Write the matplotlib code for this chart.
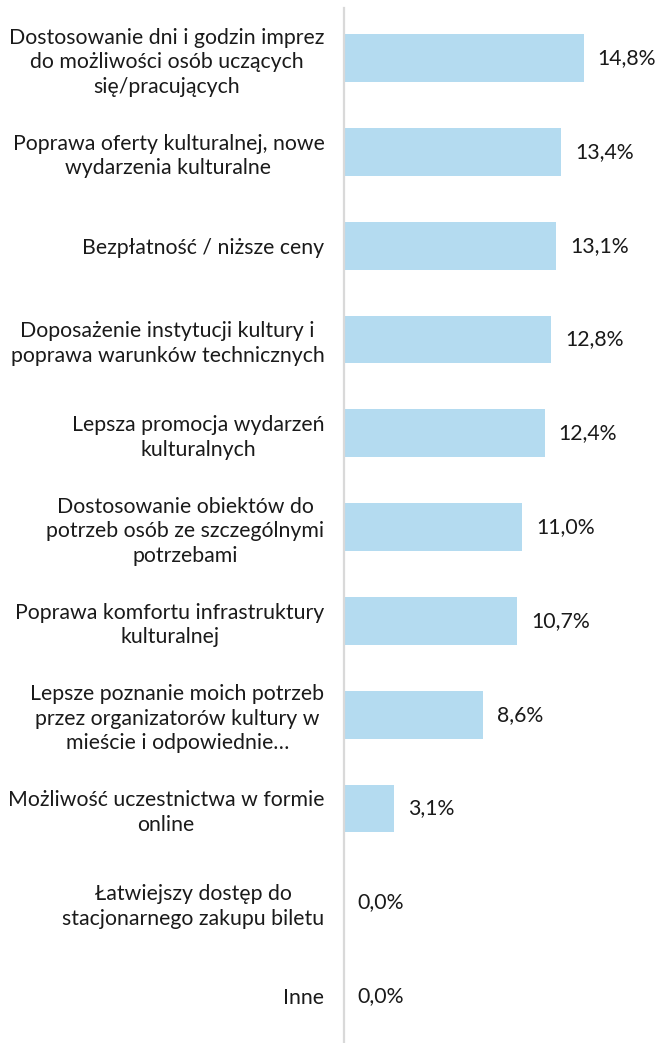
import matplotlib

matplotlib.use("Agg")
import matplotlib.pyplot as plt

# dane (od góry do dołu)
kategorie = [
    "Dostosowanie dni i godzin imprez\ndo możliwości osób uczących\nsię/pracujących",
    "Poprawa oferty kulturalnej, nowe\nwydarzenia kulturalne",
    "Bezpłatność / niższe ceny",
    "Doposażenie instytucji kultury i\npoprawa warunków technicznych",
    "Lepsza promocja wydarzeń\nkulturalnych",
    "Dostosowanie obiektów do\npotrzeb osób ze szczególnymi\npotrzebami",
    "Poprawa komfortu infrastruktury\nkulturalnej",
    "Lepsze poznanie moich potrzeb\nprzez organizatorów kultury w\nmieście i odpowiednie…",
    "Możliwość uczestnictwa w formie\nonline",
    "Łatwiejszy dostęp do\nstacjonarnego zakupu biletu",
    "Inne",
]
wartosci = [14.8, 13.4, 13.1, 12.8, 12.4, 11.0, 10.7, 8.6, 3.1, 0.0, 0.0]
etykiety = ["14,8%", "13,4%", "13,1%", "12,8%", "12,4%", "11,0%", "10,7%", "8,6%", "3,1%", "0,0%", "0,0%"]

KOLOR = "#B4DBF0"
FONT = ["Lato", "DejaVu Sans"]
ROZMIAR = 15.3

fig = plt.figure(figsize=(6.6, 10.43), dpi=100)
ax = fig.add_axes([0.521, 0.0, 0.442, 0.992])

pozycje = list(range(len(kategorie)))
ax.barh(pozycje, wartosci, height=0.51, color=KOLOR)

for y, v, t in zip(pozycje, wartosci, etykiety):
    ax.annotate(t, (v, y), xytext=(10, 0), textcoords="offset points",
                va="center", ha="left", fontsize=ROZMIAR, family=FONT, color="#1a1a1a")

ax.set_xlim(0, 18)
ax.set_ylim(len(kategorie) - 0.5, -0.53)
ax.set_yticks(pozycje)
ax.set_yticklabels(kategorie, fontsize=ROZMIAR, family=FONT, color="#1a1a1a")
for lab in ax.get_yticklabels():
    lab.set_multialignment("center")
    lab.set_linespacing(1.28)
ax.tick_params(axis="y", length=0, pad=14)
ax.set_xticks([])

for s in ["top", "right", "bottom"]:
    ax.spines[s].set_visible(False)
ax.spines["left"].set_color("#D9D9D9")
ax.spines["left"].set_linewidth(1.6)

fig.savefig("out.png", dpi=100)
plt.close(fig)
